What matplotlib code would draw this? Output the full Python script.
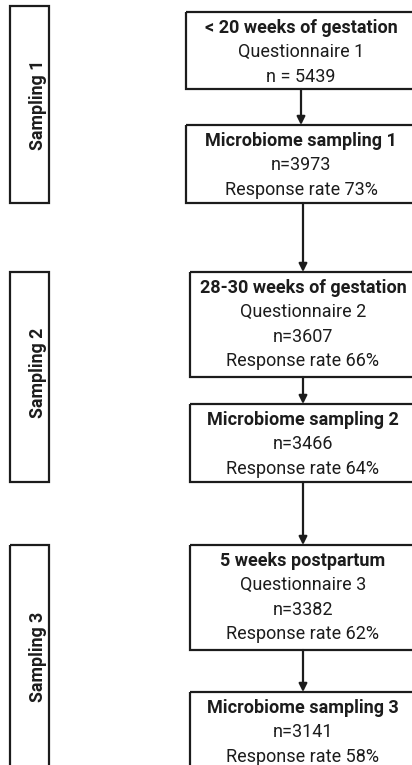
import matplotlib
matplotlib.use("Agg")
import matplotlib.pyplot as plt
from matplotlib.patches import Rectangle

plt.rcParams["font.family"] = ["Roboto", "DejaVu Sans"]

# Datos del diagrama
etapas = ["< 20 weeks of gestation", "Microbiome sampling 1",
          "28-30 weeks of gestation", "Microbiome sampling 2",
          "5 weeks postpartum", "Microbiome sampling 3"]
cuestionarios = ["Questionnaire 1", None, "Questionnaire 2", None, "Questionnaire 3", None]
n_valores = ["n = 5439", "n=3973", "n=3607", "n=3466", "n=3382", "n=3141"]
tasas = [None, "Response rate 73%", "Response rate 66%", "Response rate 64%",
         "Response rate 62%", "Response rate 58%"]
muestreos = ["Sampling 1", "Sampling 2", "Sampling 3"]

# Posiciones en pixeles (x0, x1, y0, y1)
cajas = [(186, 418, 12, 89), (186, 418, 125, 203),
         (190, 418, 272, 377), (190, 418, 404, 482),
         (190, 418, 545, 650), (190, 418, 692, 800)]
centros = [301, 301, 303, 303, 303, 303]
laterales = [(10, 49, 6, 203), (10, 49, 272, 482), (10, 49, 545, 800)]
centro_lateral = [105, 373, 657]

COLOR = "#1c1c1c"
W, H = 412, 765

fig = plt.figure(figsize=(W / 100, H / 100), dpi=100)
ax = fig.add_axes([0, 0, 1, 1])
ax.set_xlim(0, W)
ax.set_ylim(H, 0)
ax.axis("off")

# Cajas laterales con el texto rotado
for (x0, x1, y0, y1), texto, yc in zip(laterales, muestreos, centro_lateral):
    ax.add_patch(Rectangle((x0, y0), x1 - x0, y1 - y0, fill=False,
                           edgecolor=COLOR, linewidth=1.6))
    ax.text(38, yc, texto, rotation=90, ha="center", va="center",
            fontsize=12.8, fontweight="bold", color=COLOR)

# Cajas principales
for i, (x0, x1, y0, y1) in enumerate(cajas):
    ax.add_patch(Rectangle((x0, y0), x1 - x0, y1 - y0, fill=False,
                           edgecolor=COLOR, linewidth=1.6))
    lineas = [etapas[i], cuestionarios[i], n_valores[i], tasas[i]]
    lineas = [l for l in lineas if l is not None]
    for j, linea in enumerate(lineas):
        ax.text(centros[i], y0 + 16 + 24.3 * j, linea, ha="center", va="center",
                fontsize=13, color=COLOR,
                fontweight="bold" if j == 0 else "normal")

# Flechas entre cajas
for i in range(len(cajas) - 1):
    x = centros[i + 1] if i > 0 else centros[i]
    ax.annotate("", xy=(x, cajas[i + 1][2]), xytext=(x, cajas[i][3]),
                arrowprops=dict(arrowstyle="-|>", color=COLOR, lw=1.6,
                                mutation_scale=12, shrinkA=0, shrinkB=0))

fig.savefig("out.png", dpi=100, facecolor="white")
